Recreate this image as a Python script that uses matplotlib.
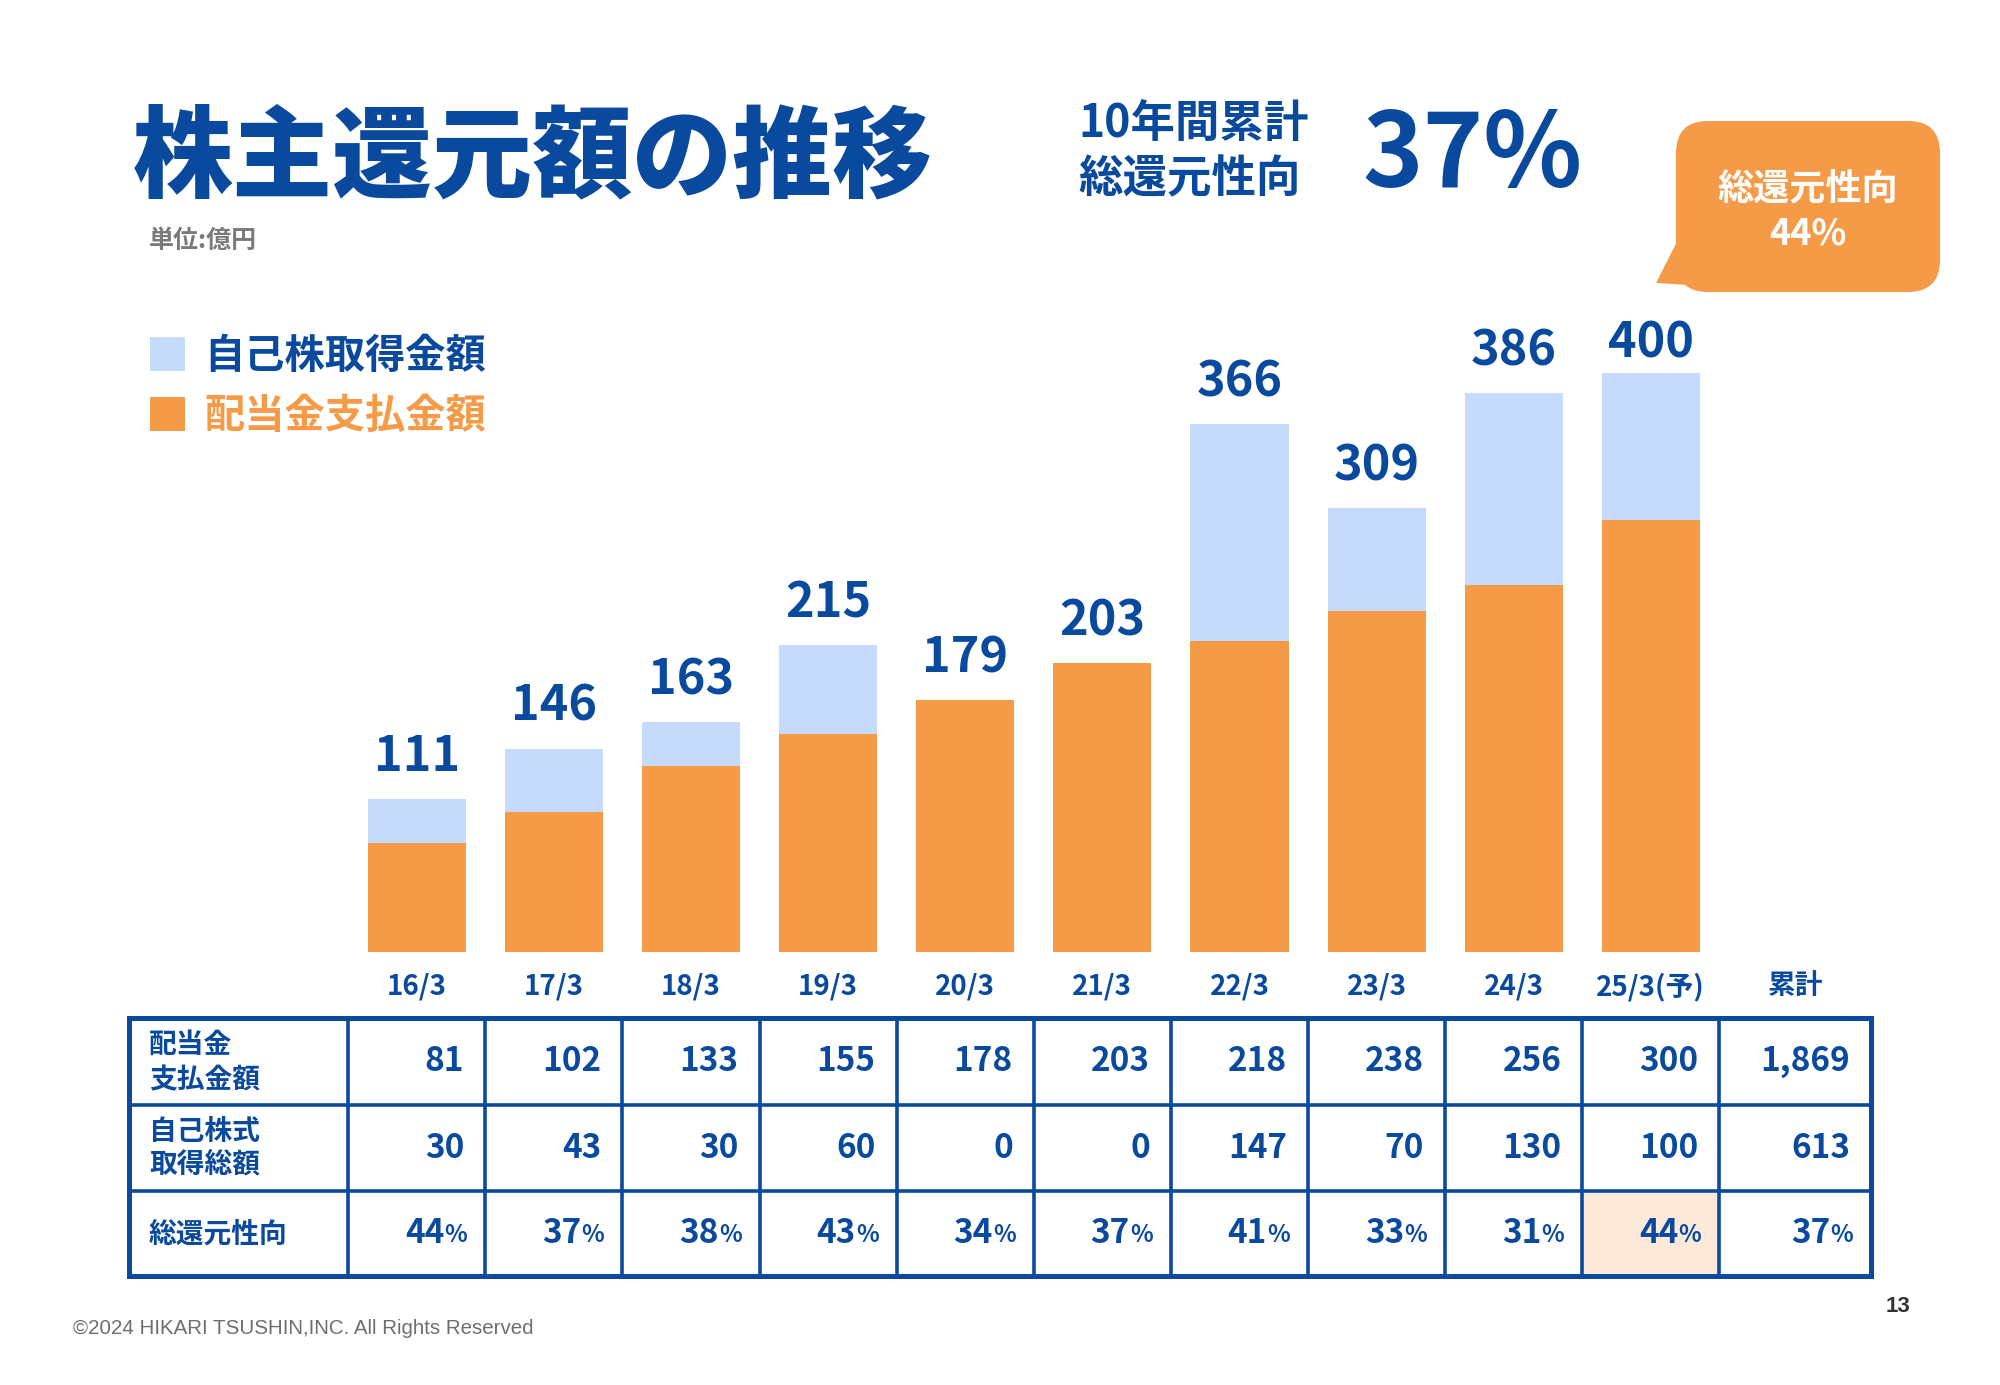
import matplotlib
matplotlib.use("Agg")
import matplotlib.pyplot as plt
from matplotlib.patches import Rectangle, FancyBboxPatch, Polygon

plt.rcParams['font.family'] = ['Noto Sans CJK JP', 'DejaVu Sans']

# data
years = ["16/3", "17/3", "18/3", "19/3", "20/3", "21/3", "22/3", "23/3", "24/3", "25/3(予)"]
dividends = [81, 102, 133, 155, 178, 203, 218, 238, 256, 300]
buybacks = [30, 43, 30, 60, 0, 0, 147, 70, 130, 100]
totals = [111, 146, 163, 215, 179, 203, 366, 309, 386, 400]
payout = [44, 37, 38, 43, 34, 37, 41, 33, 31, 44]
cum_label = "累計"
cum_dividend = "1,869"
cum_buyback = "613"
cum_payout = 37
row_labels = ["配当金\n支払金額", "自己株式\n取得総額", "総還元性向"]
legend_labels = ["自己株取得金額", "配当金支払金額"]

BLUE = "#0A4A9E"
ORANGE = "#F59A47"
LBLUE = "#C6DAFB"
HILITE = "#FDE9DA"
GRAY = "#7A7A7A"

W, H = 2000, 1385
fig = plt.figure(figsize=(W / 100, H / 100), dpi=100)

# bar chart axes, aligned to the table columns
col_left, col_w = 348.2, 137.12
base_px, top_px = 951.6, 300.0
ax = fig.add_axes([col_left / W, 1 - base_px / H, col_w * 10 / W, (base_px - top_px) / H])
x = list(range(len(years)))
ax.bar(x, dividends, width=0.715, color=ORANGE, zorder=2)
ax.bar(x, buybacks, width=0.715, bottom=dividends, color=LBLUE, zorder=2)
ax.set_xlim(-0.5, len(years) - 0.5)
ax.set_ylim(7.3, 449.2)
for i, t in enumerate(totals):
    # the last label sits closer to its bar (no room above)
    off = 11 if i == len(totals) - 1 else 20
    ax.annotate(str(t), (i, dividends[i] + buybacks[i]), xytext=(0, off),
                textcoords="offset points", ha="center", va="baseline",
                fontsize=35, fontweight="bold", color=BLUE)
ax.set_xticks(x, years)
ax.tick_params(axis="x", length=0, pad=15, labelsize=20, labelcolor=BLUE)
for lab in ax.get_xticklabels():
    lab.set_fontweight("bold")
ax.set_yticks([])
for s in ax.spines.values():
    s.set_visible(False)
ax.patch.set_alpha(0)

# overlay in pixel coordinates for text, legend and table
ov = fig.add_axes([0, 0, 1, 1])
ov.set_xlim(0, W)
ov.set_ylim(H, 0)
ov.axis("off")

ov.text(133, 160, "株主還元額の推移", fontsize=72, fontweight="heavy", color=BLUE,
        ha="left", va="center")
ov.text(149, 241, "単位:億円", fontsize=18, fontweight="bold", color=GRAY, va="center")
ov.text(1078, 124, "10年間累計", fontsize=32, fontweight="bold", color=BLUE, va="center")
ov.text(1078, 179, "総還元性向", fontsize=32, fontweight="bold", color=BLUE, va="center")
ov.text(1362, 157, f"{cum_payout}%", fontsize=74, fontweight="bold", color=BLUE, va="center")

# callout
ov.add_patch(Polygon([(1684, 228), (1656, 283), (1705, 286)], closed=True,
                     facecolor=ORANGE, edgecolor="none"))
ov.add_patch(FancyBboxPatch((1676, 121), 264, 171, boxstyle="round,pad=0,rounding_size=32",
                            facecolor=ORANGE, edgecolor="none"))
ov.text(1808, 190, "総還元性向", fontsize=26, fontweight="bold", color="white",
        ha="center", va="center")
ov.text(1808, 234, f"{payout[-1]}%", fontsize=26, fontweight="bold", color="white",
        ha="center", va="center")

# legend
ov.add_patch(Rectangle((150, 337), 35, 34, facecolor=LBLUE, edgecolor="none"))
ov.add_patch(Rectangle((150, 397), 35, 34, facecolor=ORANGE, edgecolor="none"))
ov.text(204, 356, legend_labels[0], fontsize=29, fontweight="bold", color=BLUE, va="center")
ov.text(204, 416, legend_labels[1], fontsize=29, fontweight="bold", color=ORANGE, va="center")

# table
xs = [129] + [col_left + col_w * k for k in range(len(years) + 1)] + [1871]
ys = [1018, 1105, 1191, 1276]
ov.text((xs[-2] + xs[-1]) / 2, 986, cum_label, fontsize=20, fontweight="bold",
        color=BLUE, ha="center", va="center")
ov.add_patch(Rectangle((xs[10], ys[2]), xs[11] - xs[10], ys[3] - ys[2],
                       facecolor=HILITE, edgecolor="none"))
for xv in xs[1:-1]:
    ov.plot([xv, xv], [ys[0], ys[-1]], color=BLUE, lw=2.6, solid_capstyle="butt")
for yv in ys[1:-1]:
    ov.plot([xs[0], xs[-1]], [yv, yv], color=BLUE, lw=2.6, solid_capstyle="butt")
ov.add_patch(Rectangle((xs[0], ys[0]), xs[-1] - xs[0], ys[-1] - ys[0],
                       facecolor="none", edgecolor=BLUE, lw=3.6))

row_lines = [(1045, 1080), (1132, 1164), (1235,)]
for r, lab in enumerate(row_labels):
    for line, yy in zip(lab.split("\n"), row_lines[r]):
        ov.text(149, yy, line, fontsize=20, fontweight="bold", color=BLUE, va="center")

rows = [[str(v) for v in dividends] + [cum_dividend],
        [str(v) for v in buybacks] + [cum_buyback]]
for r, vals in enumerate(rows):
    yc = (ys[r] + ys[r + 1]) / 2
    for c, v in enumerate(vals):
        ov.text(xs[c + 2] - 21, yc, v, fontsize=24, fontweight="bold", color=BLUE,
                ha="right", va="center")
yc = (ys[2] + ys[3]) / 2
for c, v in enumerate(payout + [cum_payout]):
    ov.text(xs[c + 2] - 18, yc + 2, "%", fontsize=17, fontweight="bold", color=BLUE,
            ha="right", va="center")
    ov.text(xs[c + 2] - 41, yc, str(v), fontsize=24, fontweight="bold", color=BLUE,
            ha="right", va="center")

ov.text(73, 1329, "©2024 HIKARI TSUSHIN,INC. All Rights Reserved", fontsize=14.8,
        color="#6E6E6E", family=["Liberation Sans", "DejaVu Sans"], va="center")
ov.text(1898, 1306, "13", fontsize=16, color="#333333", ha="center", va="center",
        family=["Liberation Sans", "DejaVu Sans"], fontweight="bold")

fig.savefig("out.png", dpi=100, facecolor="white")
